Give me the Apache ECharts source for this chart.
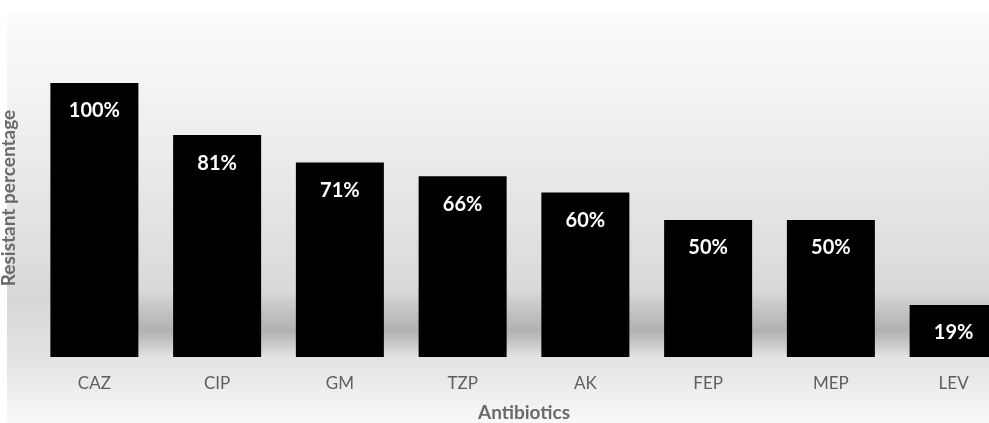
<!DOCTYPE html>
<html><head><meta charset="utf-8">
<script src="https://cdn.jsdelivr.net/npm/echarts@6/dist/echarts.min.js"></script>
<style>html,body{margin:0;padding:0;background:#fff}#c{width:989px;height:423px}</style>
</head><body><div id="c"></div>
<script>
const categories = ['CAZ','CIP','GM','TZP','AK','FEP','MEP','LEV'];
const values = [100, 81, 71, 66, 60, 50, 50, 19];

const chart = echarts.init(document.getElementById('c'));
chart.setOption({
  backgroundColor: '#ffffff',
  graphic: [{
    type: 'rect', left: 7, top: 10, z: -10, silent: true,
    shape: {width: 982, height: 413},
    style: {
      fill: {
        type: 'linear', x: 0, y: 0, x2: 0, y2: 1,
        colorStops: [
          {offset: 0, color: '#fcfcfc'},
          {offset: 0.34, color: '#ececec'},
          {offset: 0.70, color: '#d8d8d8'},
          {offset: 0.84, color: '#e2e2e2'},
          {offset: 1, color: '#f8f8f8'}
        ]
      }
    }
  }],
  textStyle: {fontFamily: 'Lato'},
  grid: {left: 33, right: -26, top: 83, bottom: 66, outerBoundsMode: 'none', containLabel: false},
  xAxis: {
    type: 'category', data: categories,
    axisLine: {show: false}, axisTick: {show: false},
    axisLabel: {color: '#5f5f5f', fontSize: 17, margin: 18, fontFamily: 'Lato'},
    name: 'Antibiotics', nameLocation: 'middle', nameGap: 46,
    nameTextStyle: {color: '#6a6a6a', fontSize: 19, fontWeight: 'bold', fontFamily: 'Lato'}
  },
  yAxis: {
    type: 'value', min: 0, max: 100,
    axisLine: {show: false}, axisTick: {show: false}, axisLabel: {show: false},
    splitLine: {show: false},
    name: 'Resistant percentage', nameLocation: 'middle', nameGap: 15, nameRotate: 90,
    nameTextStyle: {color: '#6a6a6a', fontSize: 19, fontWeight: 'bold', fontFamily: 'Lato',
      padding: [0, 0, 0, 44]}
  },
  series: [{
    type: 'custom', z: 1, silent: true,
    data: values.map((v, i) => [i, v]),
    renderItem: function (params, api) {
      const idx = api.value(0);
      const base = api.coord([idx, 0]);
      const top = api.coord([idx, 24]);
      const band = api.size([1, 0])[0];
      return {
        type: 'rect',
        shape: {x: base[0], y: top[1], width: band, height: base[1] - top[1]},
        style: {
          fill: {
            type: 'linear', x: 0, y: 0, x2: 0, y2: 1,
            colorStops: [
              {offset: 0, color: 'rgba(0,0,0,0)'},
              {offset: 0.35, color: 'rgba(0,0,0,0.12)'},
              {offset: 0.6, color: 'rgba(0,0,0,0.2)'},
              {offset: 0.8, color: 'rgba(0,0,0,0.1)'},
              {offset: 1, color: 'rgba(0,0,0,0)'}
            ]
          }
        }
      };
    }
  }, {
    type: 'bar', data: values, barWidth: 88, z: 3,
    itemStyle: {color: '#000000'},
    label: {
      show: true, position: 'insideTop', distance: 18,
      color: '#ffffff', fontWeight: 'bold', fontSize: 20, fontFamily: 'Lato',
      formatter: p => p.value + '%'
    }
  }]
});
</script></body></html>
